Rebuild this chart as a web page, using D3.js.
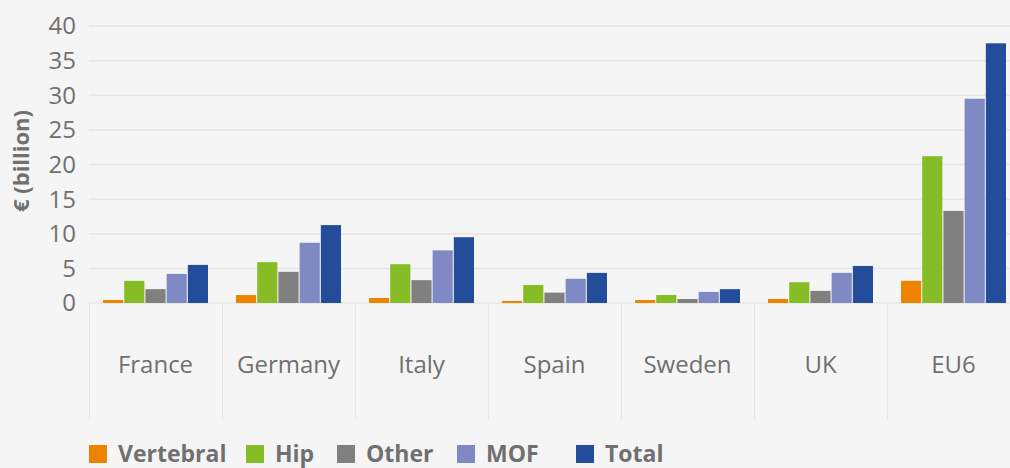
<!DOCTYPE html>
<html>
<head>
<meta charset="utf-8">
<script src="https://cdn.jsdelivr.net/npm/d3@7"></script>
<style>
  html, body { margin: 0; padding: 0; background: #f5f5f5; overflow: hidden; }
  svg { display: block; font-family: "Open Sans", sans-serif; }
</style>
</head>
<body>
<svg id="chart" width="1010" height="468"></svg>
<script>
const categories = ["France", "Germany", "Italy", "Spain", "Sweden", "UK", "EU6"];
const series = ["Vertebral", "Hip", "Other", "MOF", "Total"];
const colors = ["#ee8300", "#86bc25", "#808080", "#7f89c4", "#234c9a"];
const vertebral = [0.43, 1.15, 0.72, 0.3, 0.43, 0.58, 3.2];
const hip = [3.2, 5.9, 5.6, 2.6, 1.15, 3.0, 21.2];
const other = [2.0, 4.5, 3.3, 1.5, 0.58, 1.75, 13.3];
const mof = [4.2, 8.7, 7.6, 3.5, 1.6, 4.35, 29.5];
const total = [5.5, 11.25, 9.5, 4.35, 2.0, 5.35, 37.5];
const yTicks = [0, 5, 10, 15, 20, 25, 30, 35, 40];

const values = [vertebral, hip, other, mof, total];

const svg = d3.select("#chart");
const textColor = "#707070";

const x0 = d3.scaleBand().domain(categories).range([89, 1020]).padding(0);
const bw = x0.bandwidth();
const x1 = d3.scaleBand().domain(series).range([14, bw - 14]).paddingInner(0.05);
const y = d3.scaleLinear().domain([0, 40]).range([303, 26]);
const color = d3.scaleOrdinal().domain(series).range(colors);

// gridlines
svg.append("g")
  .selectAll("line")
  .data(yTicks)
  .enter().append("line")
  .attr("x1", 89).attr("x2", 1010)
  .attr("y1", d => y(d)).attr("y2", d => y(d))
  .attr("stroke", "#e6e6e6")
  .attr("stroke-width", 1.5);

// y tick labels
svg.append("g")
  .selectAll("text")
  .data(yTicks)
  .enter().append("text")
  .attr("x", 76)
  .attr("y", d => y(d))
  .attr("dy", "0.35em")
  .attr("text-anchor", "end")
  .attr("fill", textColor)
  .style("font-size", "24px")
  .text(d => d);

// y title
svg.append("text")
  .attr("transform", "translate(29,161) rotate(-90)")
  .attr("text-anchor", "middle")
  .attr("fill", textColor)
  .style("font-size", "22px")
  .style("font-weight", "bold")
  .text("€ (billion)");

// category separators
svg.append("g")
  .selectAll("line")
  .data(categories)
  .enter().append("line")
  .attr("x1", d => x0(d) + 0.5).attr("x2", d => x0(d) + 0.5)
  .attr("y1", 303).attr("y2", 420)
  .attr("stroke", "#e6e6e6")
  .attr("stroke-width", 1);

// category labels
svg.append("g")
  .selectAll("text")
  .data(categories)
  .enter().append("text")
  .attr("x", d => x0(d) + bw / 2)
  .attr("y", 373)
  .attr("text-anchor", "middle")
  .attr("fill", textColor)
  .style("font-size", "24px")
  .text(d => d);

// bars
const groups = svg.append("g")
  .selectAll("g")
  .data(categories)
  .enter().append("g")
  .attr("transform", d => "translate(" + x0(d) + ",0)");

groups.selectAll("rect")
  .data((d, i) => series.map((s, j) => ({ s: s, v: values[j][i] })))
  .enter().append("rect")
  .attr("x", d => x1(d.s))
  .attr("width", x1.bandwidth())
  .attr("y", d => y(d.v))
  .attr("height", d => y(0) - y(d.v))
  .attr("fill", d => color(d.s));

// legend
const legendX = [89, 246, 337, 457, 576];
const legend = svg.append("g")
  .selectAll("g")
  .data(series)
  .enter().append("g")
  .attr("transform", (d, i) => "translate(" + legendX[i] + ",445)");

legend.append("rect")
  .attr("width", 18).attr("height", 18)
  .attr("fill", d => color(d));

legend.append("text")
  .attr("x", 29)
  .attr("y", 17)
  .attr("fill", textColor)
  .style("font-size", "23px")
  .style("font-weight", "bold")
  .text(d => d);
</script>
</body>
</html>
